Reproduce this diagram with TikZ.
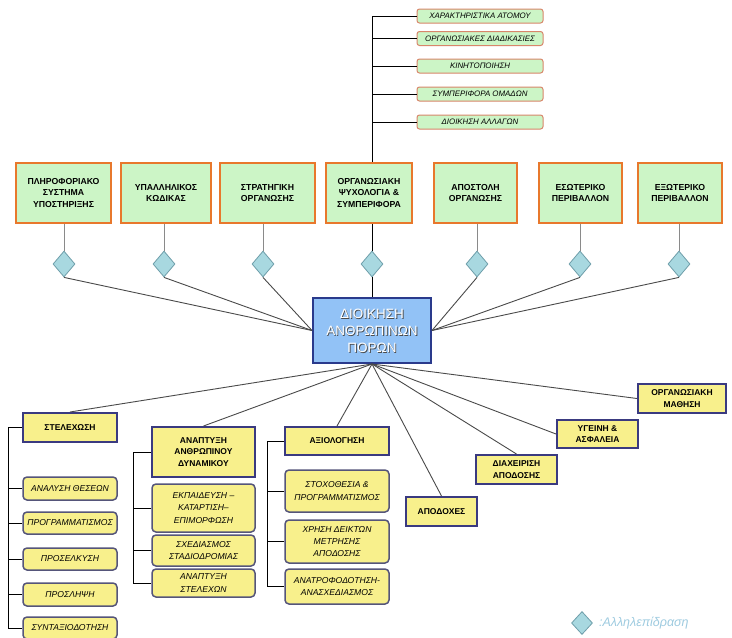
\documentclass[tikz,border=0pt]{standalone}
\usepackage{fontspec}
\setmainfont{Liberation Sans}
\usetikzlibrary{shapes.geometric}
\definecolor{gfill}{HTML}{CCF5C6}
\definecolor{oborder}{HTML}{E8782C}
\definecolor{tgborder}{HTML}{D8866A}
\definecolor{yfill}{HTML}{F8F08C}
\definecolor{yborder}{HTML}{3A3A80}
\definecolor{subborder}{HTML}{55557A}
\definecolor{dfill}{HTML}{A8D8E0}
\definecolor{dborder}{HTML}{6E9EAA}
\definecolor{cfill}{HTML}{92C2F6}
\definecolor{cborder}{HTML}{2A3A8C}
\definecolor{lnkcol}{HTML}{4A4A4A}
\definecolor{stemcol}{HTML}{8A8A8A}
\definecolor{lgtext}{HTML}{9ECBE0}
\tikzset{
  bx/.style={inner sep=1pt, align=center},
  obox/.style={bx, draw=oborder, line width=2.6pt, fill=gfill, minimum height=60pt, font=\fontsize{8.7}{11.8}\selectfont\bfseries},
  tbox/.style={bx, draw=tgborder, line width=1pt, fill=gfill, rounded corners=2.5pt, minimum width=126pt, minimum height=14pt, font=\fontsize{7.9}{9}\selectfont\itshape},
  ybox/.style={bx, draw=yborder, line width=2pt, fill=yfill, font=\fontsize{8.5}{11.5}\selectfont\bfseries},
  sbox/.style={bx, draw=subborder, line width=1.5pt, fill=yfill, rounded corners=4pt, font=\fontsize{8.6}{12.3}\selectfont\itshape},
  dia/.style={diamond, draw=dborder, fill=dfill, line width=0.8pt, minimum width=22pt, minimum height=26pt, inner sep=0pt},
  cbox/.style={draw=cborder, line width=2pt, fill=cfill, minimum width=118pt, minimum height=65pt},
  ctext/.style={align=center, inner sep=0pt, font=\fontsize{13.5}{17}\selectfont},
  lnk/.style={draw=lnkcol, line width=0.9pt},
  stem/.style={draw=stemcol, line width=1pt},
  brk/.style={draw=black, line width=0.9pt}
}
\begin{document}
\begin{tikzpicture}[x=1pt,y=-1pt]
\useasboundingbox (0,0) rectangle (732,638);
\fill[white] (0,0) rectangle (732,638);

% top green boxes
\node[tbox] (t1) at (480,16) {ΧΑΡΑΚΤΗΡΙΣΤΙΚΑ ΑΤΟΜΟΥ};
\node[tbox] (t2) at (480,38.5) {ΟΡΓΑΝΩΣΙΑΚΕΣ ΔΙΑΔΙΚΑΣΙΕΣ};
\node[tbox] (t3) at (480,66) {ΚΙΝΗΤΟΠΟΙΗΣΗ};
\node[tbox] (t4) at (480,94) {ΣΥΜΠΕΡΙΦΟΡΑ ΟΜΑΔΩΝ};
\node[tbox] (t5) at (480,122) {ΔΙΟΙΚΗΣΗ ΑΛΛΑΓΩΝ};

% orange-framed boxes
\node[obox, minimum width=95pt] (o1) at (63.5,193) {ΠΛΗΡΟΦΟΡΙΑΚΟ\\ΣΥΣΤΗΜΑ\\ΥΠΟΣΤΗΡΙΞΗΣ};
\node[obox, minimum width=90pt] (o2) at (166,193) {ΥΠΑΛΛΗΛΙΚΟΣ\\ΚΩΔΙΚΑΣ};
\node[obox, minimum width=95pt] (o3) at (267.5,193) {ΣΤΡΑΤΗΓΙΚΗ\\ΟΡΓΑΝΩΣΗΣ};
\node[obox, minimum width=86pt] (o4) at (369,193) {ΟΡΓΑΝΩΣΙΑΚΗ\\ΨΥΧΟΛΟΓΙΑ \&\\ΣΥΜΠΕΡΙΦΟΡΑ};
\node[obox, minimum width=83pt] (o5) at (475.5,193) {ΑΠΟΣΤΟΛΗ\\ΟΡΓΑΝΩΣΗΣ};
\node[obox, minimum width=83pt] (o6) at (580.5,193) {ΕΣΩΤΕΡΙΚΟ\\ΠΕΡΙΒΑΛΛΟΝ};
\node[obox, minimum width=84pt] (o7) at (680,193) {ΕΞΩΤΕΡΙΚΟ\\ΠΕΡΙΒΑΛΛΟΝ};

% diamonds
\node[dia] (d1) at (64,264) {};
\node[dia] (d2) at (164,264) {};
\node[dia] (d3) at (263,264) {};
\node[dia] (d4) at (372,264) {};
\node[dia] (d5) at (477,264) {};
\node[dia] (d6) at (580,264) {};
\node[dia] (d7) at (679,264) {};

% centre box
\node[cbox] (c) at (372,330.5) {};
\node[ctext, text=black!70] at ([shift={(0.9pt,-0.9pt)}]c.center) {ΔΙΟΙΚΗΣΗ\\ΑΝΘΡΩΠΙΝΩΝ\\ΠΟΡΩΝ};
\node[ctext, text=white] (ct) at (c.center) {ΔΙΟΙΚΗΣΗ\\ΑΝΘΡΩΠΙΝΩΝ\\ΠΟΡΩΝ};

% stems box -> diamond
\foreach \i in {1,2,3,5,6,7} {\draw[stem] (d\i.north) -- (d\i.north |- o\i.south);}
\draw[brk] (d4.north) -- (d4.north |- o4.south);
% diamond -> centre
\foreach \i in {1,2,3} {\draw[lnk] (d\i.south) -- (c.west);}
\foreach \i in {5,6,7} {\draw[lnk] (d\i.south) -- (c.east);}
\draw[brk] (d4.south) -- (c.north);

% spine to green boxes
\coordinate (sp) at (372,0);
\draw[brk] (t1.west -| sp) -- (o4.north -| sp);
\foreach \i in {1,...,5} {\draw[brk] (t\i.west) -- (t\i.west -| sp);}

% bottom boxes
\node[ybox, minimum width=94pt, minimum height=29pt] (st) at (70,427.5) {ΣΤΕΛΕΧΩΣΗ};
\node[sbox, minimum width=94pt, minimum height=23pt] (s1) at (70,488.5) {ΑΝΑΛΥΣΗ ΘΕΣΕΩΝ};
\node[sbox, minimum width=94pt, minimum height=22pt] (s2) at (70,523) {ΠΡΟΓΡΑΜΜΑΤΙΣΜΟΣ};
\node[sbox, minimum width=94pt, minimum height=22pt] (s3) at (70,559) {ΠΡΟΣΕΛΚΥΣΗ};
\node[sbox, minimum width=94pt, minimum height=23pt] (s4) at (70,594.5) {ΠΡΟΣΛΗΨΗ};
\node[sbox, minimum width=94pt, minimum height=22pt] (s5) at (70,628) {ΣΥΝΤΑΞΙΟΔΟΤΗΣΗ};

\node[ybox, minimum width=103pt, minimum height=50pt] (an) at (203.5,452) {ΑΝΑΠΤΥΞΗ\\ΑΝΘΡΩΠΙΝΟΥ\\ΔΥΝΑΜΙΚΟΥ};
\node[sbox, minimum width=103pt, minimum height=48pt] (a1) at (203.5,508) {ΕΚΠΑΙΔΕΥΣΗ –\\ΚΑΤΑΡΤΙΣΗ–\\ΕΠΙΜΟΡΦΩΣΗ};
\node[sbox, minimum width=103pt, minimum height=31pt] (a2) at (203.5,550.5) {ΣΧΕΔΙΑΣΜΟΣ\\ΣΤΑΔΙΟΔΡΟΜΙΑΣ};
\node[sbox, minimum width=103pt, minimum height=28pt] (a3) at (203.5,583) {ΑΝΑΠΤΥΞΗ\\ΣΤΕΛΕΧΩΝ};

\node[ybox, minimum width=104pt, minimum height=28pt] (ax) at (337,441) {ΑΞΙΟΛΟΓΗΣΗ};
\node[sbox, minimum width=104pt, minimum height=42pt] (x1) at (337,491) {ΣΤΟΧΟΘΕΣΙΑ \&\\ΠΡΟΓΡΑΜΜΑΤΙΣΜΟΣ};
\node[sbox, minimum width=104pt, minimum height=43pt] (x2) at (337,541.5) {ΧΡΗΣΗ ΔΕΙΚΤΩΝ\\ΜΕΤΡΗΣΗΣ\\ΑΠΟΔΟΣΗΣ};
\node[sbox, minimum width=104pt, minimum height=35pt] (x3) at (337,586.5) {ΑΝΑΤΡΟΦΟΔΟΤΗΣΗ-\\ΑΝΑΣΧΕΔΙΑΣΜΟΣ};

\node[ybox, minimum width=71pt, minimum height=29pt] (ap) at (441.5,511.5) {ΑΠΟΔΟΧΕΣ};
\node[ybox, minimum width=81pt, minimum height=29pt] (di) at (516.5,469.5) {ΔΙΑΧΕΙΡΙΣΗ\\ΑΠΟΔΟΣΗΣ};
\node[ybox, minimum width=81pt, minimum height=28pt] (yg) at (597.5,434) {ΥΓΕΙΝΗ \&\\ΑΣΦΑΛΕΙΑ};
\node[ybox, minimum width=88pt, minimum height=29pt] (om) at (682,398.5) {ΟΡΓΑΝΩΣΙΑΚΗ\\ΜΑΘΗΣΗ};

% centre -> bottom
\draw[lnk] (c.south) -- (st.north);
\draw[lnk] (c.south) -- (an.north);
\draw[lnk] (c.south) -- (ax.north);
\draw[lnk] (c.south) -- (ap.north);
\draw[lnk] (c.south) -- (di.north);
\draw[lnk] (c.south) -- (yg.west);
\draw[lnk] (c.south) -- (om.west);

% brackets
\coordinate (b1) at (8,0);
\coordinate (b2) at (133,0);
\coordinate (b3) at (267,0);
\draw[brk] (st.west) -- (st.west -| b1) -- (s5.west -| b1) -- (s5.west);
\foreach \n in {s1,s2,s3,s4} {\draw[brk] (\n.west) -- (\n.west -| b1);}
\draw[brk] (an.west) -- (an.west -| b2) -- (a3.west -| b2) -- (a3.west);
\foreach \n in {a1,a2} {\draw[brk] (\n.west) -- (\n.west -| b2);}
\draw[brk] (ax.west) -- (ax.west -| b3) -- (x3.west -| b3) -- (x3.west);
\foreach \n in {x1,x2} {\draw[brk] (\n.west) -- (\n.west -| b3);}

% legend
\node[dia, minimum width=21pt, minimum height=23pt] (lg) at (582,623) {};
\node[anchor=west, inner sep=0pt, text=lgtext, font=\fontsize{12.5}{14}\selectfont\itshape] (lgt) at ([xshift=6pt]lg.east) {:Αλληλεπίδραση};
\end{tikzpicture}
\end{document}
